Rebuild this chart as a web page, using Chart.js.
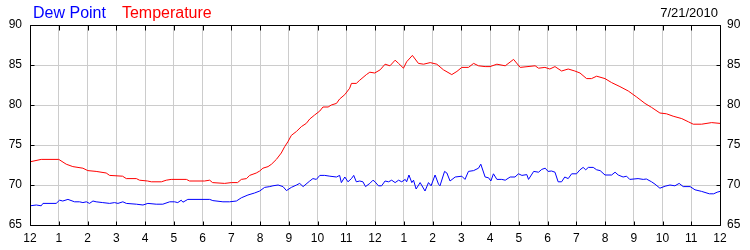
<!DOCTYPE html>
<html>
<head>
<meta charset="utf-8">
<script src="https://cdn.jsdelivr.net/npm/chart.js@4/dist/chart.umd.min.js"></script>
<style>
  html, body { margin: 0; padding: 0; background: #fff; }
  #wrap { width: 750px; height: 250px; }
</style>
</head>
<body>
<div id="wrap"><canvas id="c" width="750" height="250"></canvas></div>
<script>
const hourLabels = ['12','1','2','3','4','5','6','7','8','9','10','11','12','1','2','3','4','5','6','7','8','9','10','11','12'];
const dateLabel = '7/21/2010';
const seriesNames = ['Dew Point', 'Temperature'];
const seriesColors = ['#0000ff', '#ff0000'];

const tempHours = [0,0.39,1.0,1.26,1.49,1.84,2.01,2.30,2.65,2.77,
  3.22,3.35,3.70,3.81,4.09,4.22,4.57,4.74,4.91,5.44,
  5.55,6.07,6.25,6.35,6.77,7.00,7.22,7.35,7.53,7.64,
  7.87,7.99,8.10,8.28,8.40,8.57,8.74,8.86,8.97,9.09,
  9.27,9.44,9.61,9.73,9.90,10.08,10.19,10.37,10.48,10.66,
  10.77,10.95,11.12,11.18,11.35,11.47,11.70,11.82,11.99,12.18,
  12.35,12.52,12.70,12.82,12.99,13.10,13.30,13.51,13.69,13.92,
  14.15,14.38,14.67,14.85,15.02,15.25,15.43,15.60,15.83,16.00,
  16.24,16.53,16.82,17.05,17.57,17.69,17.91,18.08,18.26,18.49,
  18.72,18.95,19.13,19.36,19.53,19.71,20.00,20.23,20.52,20.81,
  21.10,21.39,21.62,21.91,22.14,22.37,22.67,22.90,23.07,23.36,
  23.71,24.00];
const tempValues = [72.9,73.2,73.2,72.6,72.3,72.1,71.8,71.7,71.5,71.2,
  71.1,70.8,70.8,70.6,70.5,70.4,70.4,70.6,70.7,70.7,
  70.5,70.5,70.6,70.3,70.2,70.3,70.3,70.7,70.8,71.2,
  71.5,71.75,72.1,72.3,72.6,73.2,74.0,74.8,75.4,76.2,
  76.7,77.3,77.7,78.25,78.75,79.25,79.75,79.75,80.0,80.2,
  80.75,81.3,82.1,82.7,82.7,83.1,83.8,84.1,84.0,84.4,
  85.1,84.9,85.6,85.2,84.6,85.4,86.2,85.2,85.1,85.3,
  85.1,84.4,83.8,84.2,84.7,84.7,85.2,84.9,84.8,84.8,
  85.1,84.9,85.7,84.7,84.9,84.6,84.7,84.5,84.8,84.25,
  84.5,84.25,84.0,83.3,83.3,83.6,83.3,82.8,82.3,81.75,
  81.0,80.2,79.7,79.0,78.9,78.6,78.3,77.9,77.6,77.6,
  77.8,77.7];

const dewHours = [0,0.22,0.39,0.45,0.91,1.03,1.14,1.32,1.55,1.72,
  1.84,1.96,2.07,2.19,2.30,2.53,2.77,2.94,3.06,3.23,
  3.35,3.70,3.93,4.10,4.39,4.62,4.86,5.03,5.14,5.26,
  5.32,5.49,6.25,6.36,6.71,6.94,7.18,7.35,7.58,7.81,
  7.99,8.16,8.34,8.45,8.63,8.80,8.92,9.09,9.27,9.38,
  9.50,9.73,9.84,9.96,10.08,10.25,10.43,10.66,10.77,10.83,
  10.95,11.06,11.18,11.26,11.35,11.47,11.58,11.67,11.82,11.93,
  12.00,12.12,12.23,12.35,12.47,12.58,12.70,12.82,12.93,13.05,
  13.10,13.18,13.28,13.34,13.43,13.57,13.74,13.86,13.95,14.09,
  14.21,14.26,14.42,14.50,14.61,14.79,15.02,15.13,15.25,15.43,
  15.60,15.68,15.83,15.95,16.03,16.12,16.24,16.41,16.53,16.70,
  16.87,16.99,17.11,17.28,17.34,17.52,17.69,17.80,17.92,18.02,
  18.14,18.26,18.37,18.49,18.60,18.72,18.84,19.01,19.13,19.24,
  19.33,19.42,19.59,19.71,19.83,20.00,20.23,20.35,20.46,20.63,
  20.75,20.86,21.15,21.33,21.44,21.62,21.74,21.91,22.09,22.26,
  22.43,22.58,22.72,22.96,23.13,23.36,23.63,23.78,23.90,24.00];
const dewValues = [67.4,67.5,67.4,67.7,67.7,68.1,68.0,68.2,67.9,67.9,
  67.8,67.9,67.7,68.0,67.9,67.8,67.7,67.8,67.7,67.9,
  67.7,67.6,67.5,67.7,67.6,67.6,67.9,67.9,67.8,68.1,
  67.85,68.2,68.2,68.05,67.9,67.9,68.0,68.4,68.75,69.0,
  69.25,69.7,69.8,69.9,70.0,69.8,69.3,69.7,70.0,70.2,
  69.8,70.5,70.8,70.7,71.2,71.2,71.1,71.0,71.2,70.3,
  71.0,70.4,70.8,71.2,70.4,70.5,70.4,69.8,70.2,70.6,
  70.4,69.9,69.9,70.5,70.4,70.6,70.3,70.6,70.4,70.7,
  70.4,71.25,70.3,70.6,69.5,70.3,69.25,70.3,69.9,71.25,
  70.1,69.9,71.7,71.5,70.5,71.0,71.1,70.7,71.7,71.8,
  72.1,72.6,71.0,70.9,70.5,71.4,70.7,70.7,70.6,71.0,
  71.0,71.4,71.2,71.3,70.7,71.7,71.6,71.95,72.1,71.7,
  71.75,71.6,70.4,70.4,71.0,70.8,71.4,71.4,71.9,72.2,
  71.9,72.2,72.2,71.9,71.8,71.25,71.25,71.6,71.25,71.0,
  71.1,70.7,70.8,70.7,70.75,70.4,70.1,69.6,69.85,70.0,
  69.9,70.2,69.8,69.8,69.4,69.2,68.9,68.9,69.1,69.2];

const zip = (xs, ys) => xs.map((x, i) => ({ x: x, y: ys[i] }));
const FONT = '"Liberation Sans", Arial, sans-serif';
const GRID = '#cccccc';

const frame = {
  id: 'frame',
  afterDatasetsDraw(chart) {
    const ctx = chart.ctx, a = chart.chartArea;
    const xs = chart.scales.x, ys = chart.scales.y;
    ctx.save();
    ctx.strokeStyle = '#000';
    ctx.lineWidth = 1;
    const L = Math.round(a.left) + 0.5, R = Math.round(a.right) + 0.5;
    const T = Math.round(a.top) + 0.5, B = Math.round(a.bottom) + 0.5;
    ctx.beginPath();
    ctx.rect(L, T, R - L, B - T);
    xs.ticks.forEach(t => {
      const px = Math.round(xs.getPixelForValue(t.value)) + 0.5;
      ctx.moveTo(px, T); ctx.lineTo(px, T + 5);
      ctx.moveTo(px, B); ctx.lineTo(px, B - 4);
    });
    ys.ticks.forEach(t => {
      const py = Math.round(ys.getPixelForValue(t.value)) + 0.5;
      ctx.moveTo(L, py); ctx.lineTo(L + 4, py);
      ctx.moveTo(R, py); ctx.lineTo(R - 4, py);
    });
    ctx.stroke();
    ctx.restore();
  },
  afterDraw(chart) {
    const ctx = chart.ctx;
    ctx.save();
    ctx.textBaseline = 'alphabetic';
    ctx.font = '16px ' + FONT;
    let x = 33;
    chart.data.datasets.forEach(ds => {
      ctx.fillStyle = ds.borderColor;
      ctx.textAlign = 'left';
      ctx.fillText(ds.label, x, 18);
      x += ctx.measureText(ds.label).width + 16;
    });
    ctx.font = '13px ' + FONT;
    ctx.fillStyle = '#000';
    ctx.textAlign = 'right';
    ctx.fillText(dateLabel, 718, 17);
    ctx.restore();
  }
};

new Chart(document.getElementById('c'), {
  type: 'line',
  data: {
    datasets: [
      { label: seriesNames[0], data: zip(dewHours, dewValues), borderColor: seriesColors[0], borderWidth: 1, pointRadius: 0, tension: 0, fill: false },
      { label: seriesNames[1], data: zip(tempHours, tempValues), borderColor: seriesColors[1], borderWidth: 1, pointRadius: 0, tension: 0, fill: false }
    ]
  },
  options: {
    responsive: false,
    devicePixelRatio: 1,
    animation: false,
    layout: { padding: { top: 25, left: 0, right: 0, bottom: 0 } },
    plugins: { legend: { display: false }, tooltip: { enabled: false } },
    scales: {
      x: {
        type: 'linear', min: 0, max: 24,
        ticks: { stepSize: 1, autoSkip: false, maxRotation: 0, padding: 6, color: '#000',
          font: { family: FONT, size: 12 },
          callback: v => hourLabels[v] },
        grid: { color: GRID, drawTicks: false },
        border: { display: false },
        afterFit: s => { s.height = 25; }
      },
      y: {
        min: 65, max: 90,
        ticks: { stepSize: 5, padding: 8, color: '#000', font: { family: FONT, size: 12 } },
        grid: { color: GRID, drawTicks: false },
        border: { display: false },
        afterFit: s => { s.width = 30; }
      },
      y2: {
        position: 'right', min: 65, max: 90,
        ticks: { stepSize: 5, padding: 7, color: '#000', font: { family: FONT, size: 12 } },
        grid: { drawOnChartArea: false, drawTicks: false },
        border: { display: false },
        afterFit: s => { s.width = 30; }
      }
    }
  },
  plugins: [frame]
});
</script>
</body>
</html>
